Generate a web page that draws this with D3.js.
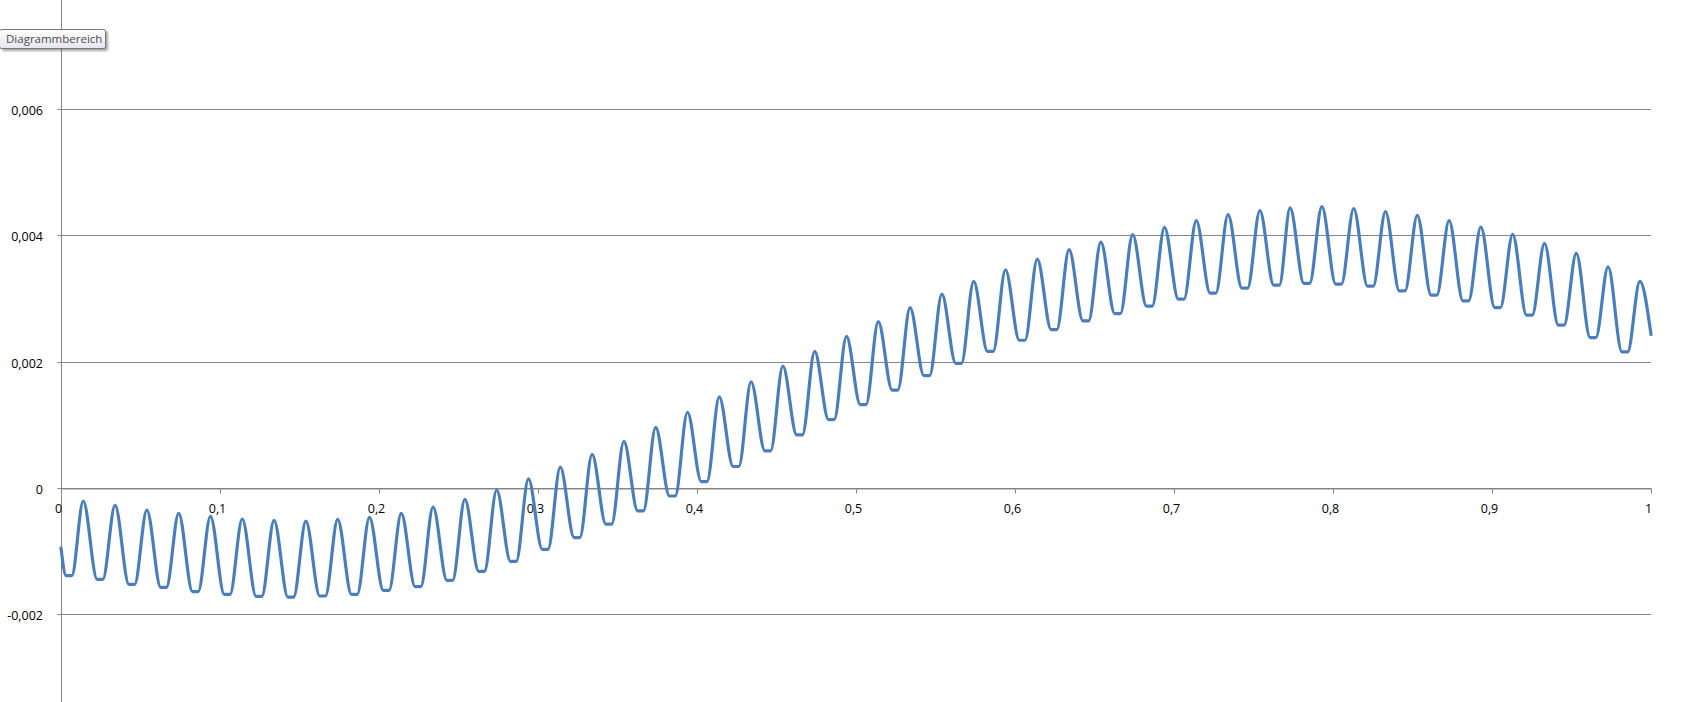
<!DOCTYPE html>
<html lang="de">
<head>
<meta charset="utf-8">
<title>Diagrammbereich</title>
<script src="https://cdn.jsdelivr.net/npm/d3@7"></script>
<style>
  body { margin: 0; background: #fff; }
  svg { display: block; }
  text { font-family: "Open Sans", "DejaVu Sans", sans-serif; }
</style>
</head>
<body>
<script>

// peaks of the 50 fast oscillations (x position, value)
var peakX = [0.014, 0.034, 0.054, 0.074, 0.094, 0.114, 0.134, 0.154, 0.174, 0.194,
             0.214, 0.234, 0.254, 0.274, 0.294, 0.314, 0.334, 0.354, 0.374, 0.394,
             0.414, 0.434, 0.454, 0.474, 0.494, 0.514, 0.534, 0.554, 0.574, 0.594,
             0.614, 0.634, 0.654, 0.674, 0.694, 0.714, 0.734, 0.754, 0.773, 0.793,
             0.813, 0.833, 0.853, 0.873, 0.893, 0.913, 0.933, 0.953, 0.973, 0.993];
var peakY = [-0.000206, -0.000274, -0.000348, -0.000401, -0.000449, -0.000491, -0.000512, -0.000523, -0.000496, -0.000464,
             -0.000401, -0.000301, -0.000180, -0.000032, 0.000143, 0.000329, 0.000531, 0.000737, 0.000960, 0.001199,
             0.001443, 0.001682, 0.001931, 0.002164, 0.002401, 0.002635, 0.002857, 0.003069, 0.003270, 0.003455,
             0.003624, 0.003773, 0.003894, 0.004011, 0.004127, 0.004233, 0.004328, 0.004391, 0.004434, 0.004455,
             0.004423, 0.004376, 0.004317, 0.004233, 0.004132, 0.004016, 0.003873, 0.003714, 0.003503, 0.003270];

// flat bottoms, each one before the peak with the same index (centre x, value)
var troughX = [0.005, 0.0245, 0.0445, 0.0645, 0.0845, 0.1045, 0.1245, 0.1445, 0.1645, 0.1845,
               0.2045, 0.2245, 0.2445, 0.2645, 0.2845, 0.3045, 0.3245, 0.3445, 0.3645, 0.3845,
               0.4045, 0.4245, 0.4445, 0.4645, 0.4845, 0.5045, 0.5245, 0.5445, 0.5645, 0.5845,
               0.6045, 0.6245, 0.6445, 0.6645, 0.6845, 0.7045, 0.7245, 0.7445, 0.7645, 0.7835,
               0.8035, 0.8235, 0.8435, 0.8635, 0.8835, 0.9035, 0.9235, 0.9435, 0.9635, 0.9835];
var troughY = [-0.001388, -0.001446, -0.001525, -0.001573, -0.001641, -0.001684, -0.001715, -0.001726, -0.001710, -0.001684,
               -0.001620, -0.001562, -0.001462, -0.001321, -0.001162, -0.000971, -0.000785, -0.000573, -0.000361, -0.000127,
               0.000101, 0.000340, 0.000589, 0.000840, 0.001082, 0.001321, 0.001551, 0.001778, 0.001974, 0.002164,
               0.002339, 0.002508, 0.002646, 0.002762, 0.002879, 0.002990, 0.003085, 0.003164, 0.003212, 0.003238,
               0.003228, 0.003196, 0.003122, 0.003053, 0.002963, 0.002857, 0.002736, 0.002577, 0.002381, 0.002154];

var firstPoint = [0, -0.00095];
var lastPoint = [1, 0.00243];

var xTicks = [0, 0.1, 0.2, 0.3, 0.4, 0.5, 0.6, 0.7, 0.8, 0.9, 1];
var xTickLabels = ["0", "0,1", "0,2", "0,3", "0,4", "0,5", "0,6", "0,7", "0,8", "0,9", "1"];
var yTicks = [-0.002, 0, 0.002, 0.004, 0.006];
var yTickLabels = ["-0,002", "0", "0,002", "0,004", "0,006"];

// size
var width = 1693, height = 702;
var plateau = 0.0018;   // half width of the flat bottoms

var svg = d3.select("body").append("svg")
            .attr("width", width)
            .attr("height", height);

var xScale = d3.scaleLinear().domain([0, 1]).range([61, 1651]);
var yScale = d3.scaleLinear().domain([0, 0.006]).range([488, 109]);

function crisp(v) { return Math.round(v) + 0.5; }

// gridlines
svg.append("g").selectAll("line")
   .data(yTicks)
   .enter()
   .append("line")
   .attr("x1", xScale(0))
   .attr("x2", xScale(1))
   .attr("y1", function(d) { return crisp(yScale(d)); })
   .attr("y2", function(d) { return crisp(yScale(d)); })
   .attr("stroke", "#868686")
   .attr("stroke-width", 1);

// y axis
var yAxis = d3.axisLeft(yScale)
              .tickValues(yTicks)
              .tickFormat(function(d, i) { return yTickLabels[i]; })
              .tickSize(4)
              .tickPadding(14.5);
var yAxisGroup = svg.append("g")
   .attr("transform", "translate(" + crisp(xScale(0)) + ",0.5)")
   .call(yAxis);
yAxisGroup.select(".domain").remove();
yAxisGroup.selectAll(".tick line").attr("stroke", "#868686");
yAxisGroup.selectAll(".tick").attr("transform", function(d) { return "translate(0," + (Math.round(yScale(d))) + ")"; });
yAxisGroup.selectAll("text")
   .attr("dy", "5px")
   .attr("fill", "#000")
   .attr("font-size", "12.5px")
   .attr("font-family", "'Open Sans', 'DejaVu Sans', sans-serif");

svg.append("line")
   .attr("x1", crisp(xScale(0))).attr("x2", crisp(xScale(0)))
   .attr("y1", 0).attr("y2", height)
   .attr("stroke", "#868686");

// x axis on the zero line
var xAxis = d3.axisBottom(xScale)
              .tickValues(xTicks)
              .tickFormat(function(d, i) { return xTickLabels[i]; })
              .tickSize(5)
              .tickSizeOuter(0)
              .tickPadding(11);
var xAxisGroup = svg.append("g")
   .attr("transform", "translate(0," + crisp(yScale(0)) + ")")
   .call(xAxis);
xAxisGroup.select(".domain").attr("stroke", "#868686");
xAxisGroup.selectAll(".tick line").attr("stroke", "#868686");
xAxisGroup.selectAll(".tick").attr("transform", function(d) { return "translate(" + crisp(xScale(d)) + ",0)"; });
xAxisGroup.selectAll("text")
   .attr("dx", "-3px")
   .attr("fill", "#000")
   .attr("font-size", "12.5px")
   .attr("font-family", "'Open Sans', 'DejaVu Sans', sans-serif");

// series points: each flat bottom, then the peak after it
var series = [firstPoint];
for (var k = 0; k < peakX.length; k++) {
  series.push([troughX[k] - plateau, troughY[k]]);
  series.push([troughX[k] + plateau, troughY[k]]);
  series.push([peakX[k], peakY[k]]);
}
series.push(lastPoint);

var line = d3.line()
             .x(function(d) { return xScale(d[0]); })
             .y(function(d) { return yScale(d[1]); })
             .curve(d3.curveMonotoneX);

svg.append("path")
   .datum(series)
   .attr("d", line)
   .attr("fill", "none")
   .attr("stroke", "#4a7ebb")
   .attr("stroke-width", 3.2)
   .attr("stroke-linejoin", "round")
   .attr("stroke-linecap", "round");

// the "Diagrammbereich" hover label
var defs = svg.append("defs");
var grad = defs.append("linearGradient").attr("id", "tipFill")
   .attr("x1", 0).attr("y1", 0).attr("x2", 0).attr("y2", 1);
grad.append("stop").attr("offset", "0%").attr("stop-color", "#ffffff");
grad.append("stop").attr("offset", "100%").attr("stop-color", "#e4e5f0");
var blur = defs.append("filter").attr("id", "tipShadow");
blur.append("feGaussianBlur").attr("stdDeviation", 1.2);

var tip = svg.append("g");
tip.append("rect")
   .attr("x", 2).attr("y", 31).attr("width", 106).attr("height", 20)
   .attr("rx", 2)
   .attr("fill", "rgba(0,0,0,0.35)")
   .attr("filter", "url(#tipShadow)");
tip.append("rect")
   .attr("x", -0.5).attr("y", 29.5).attr("width", 106).attr("height", 19)
   .attr("rx", 2)
   .attr("fill", "url(#tipFill)")
   .attr("stroke", "#767676");
tip.append("text")
   .attr("x", 6).attr("y", 43)
   .attr("font-size", "11.5px")
   .attr("fill", "#4c4c4c")
   .text("Diagrammbereich");

</script>
</body>
</html>
